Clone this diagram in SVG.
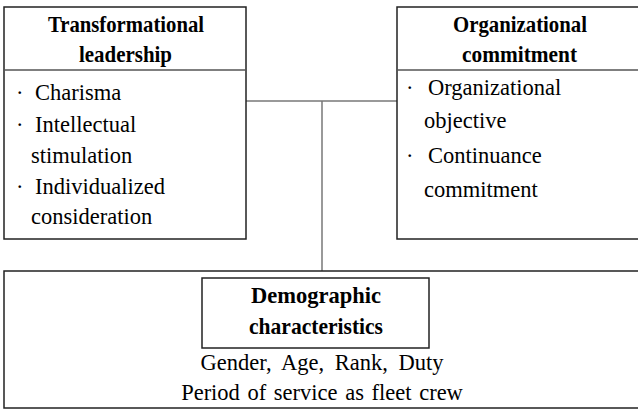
<svg xmlns="http://www.w3.org/2000/svg" width="638" height="410" viewBox="0 0 638 410">
  <style>
    .box { fill: #ffffff; stroke: #222222; stroke-width: 1.5; }
    .rule { stroke: #555555; stroke-width: 1.5; fill: none; }
    .link { stroke: #777777; stroke-width: 1.5; fill: none; }
    text { font-family: "Liberation Serif", "Times New Roman", serif; fill: #000; }
    .head { font-weight: bold; font-size: 23px; text-anchor: middle; }
    .item { font-size: 22.5px; }
    .mid { text-anchor: middle; }
  </style>

  <rect width="638" height="410" fill="#ffffff"/>

  <!-- connectors -->
  <g id="connectors">
    <line class="link" x1="246" y1="101" x2="397" y2="101"/>
    <line class="link" x1="322" y1="101" x2="322" y2="271"/>
  </g>

  <!-- Transformational leadership -->
  <g id="transformational-leadership">
    <rect class="box" x="4" y="7" width="242" height="232"/>
    <line class="rule" x1="4" y1="70" x2="246" y2="70"/>
    <text class="head" x="126" y="32" textLength="156" lengthAdjust="spacingAndGlyphs">Transformational</text>
    <text class="head" x="125.5" y="62" textLength="93" lengthAdjust="spacingAndGlyphs">leadership</text>
    <text class="item" x="16" y="100">·</text>
    <text class="item" x="35" y="100">Charisma</text>
    <text class="item" x="16" y="132">·</text>
    <text class="item" x="35" y="132">Intellectual</text>
    <text class="item" x="31" y="163">stimulation</text>
    <text class="item" x="16" y="194">·</text>
    <text class="item" x="35" y="194">Individualized</text>
    <text class="item" x="31" y="224">consideration</text>
  </g>

  <!-- Organizational commitment -->
  <g id="organizational-commitment">
    <rect class="box" x="397" y="7" width="248" height="232"/>
    <line class="rule" x1="397" y1="70" x2="645" y2="70"/>
    <text class="head" x="520" y="32" textLength="134" lengthAdjust="spacingAndGlyphs">Organizational</text>
    <text class="head" x="519.5" y="62" textLength="115" lengthAdjust="spacingAndGlyphs">commitment</text>
    <text class="item" x="406" y="95">·</text>
    <text class="item" x="428" y="95">Organizational</text>
    <text class="item" x="424" y="128">objective</text>
    <text class="item" x="406" y="163">·</text>
    <text class="item" x="428" y="163">Continuance</text>
    <text class="item" x="424" y="197">commitment</text>
  </g>

  <!-- Demographic characteristics -->
  <g id="demographic-characteristics">
    <rect class="box" x="4" y="271" width="641" height="137"/>
    <rect class="box" x="202" y="278" width="227" height="70"/>
    <text class="head" x="316" y="303" textLength="130" lengthAdjust="spacingAndGlyphs">Demographic</text>
    <text class="head" x="316" y="334" textLength="134" lengthAdjust="spacingAndGlyphs">characteristics</text>
    <text class="item mid" x="322" y="370" word-spacing="5">Gender, Age, Rank, Duty</text>
    <text class="item mid" x="322" y="400" word-spacing="2">Period of service as fleet crew</text>
  </g>
</svg>
